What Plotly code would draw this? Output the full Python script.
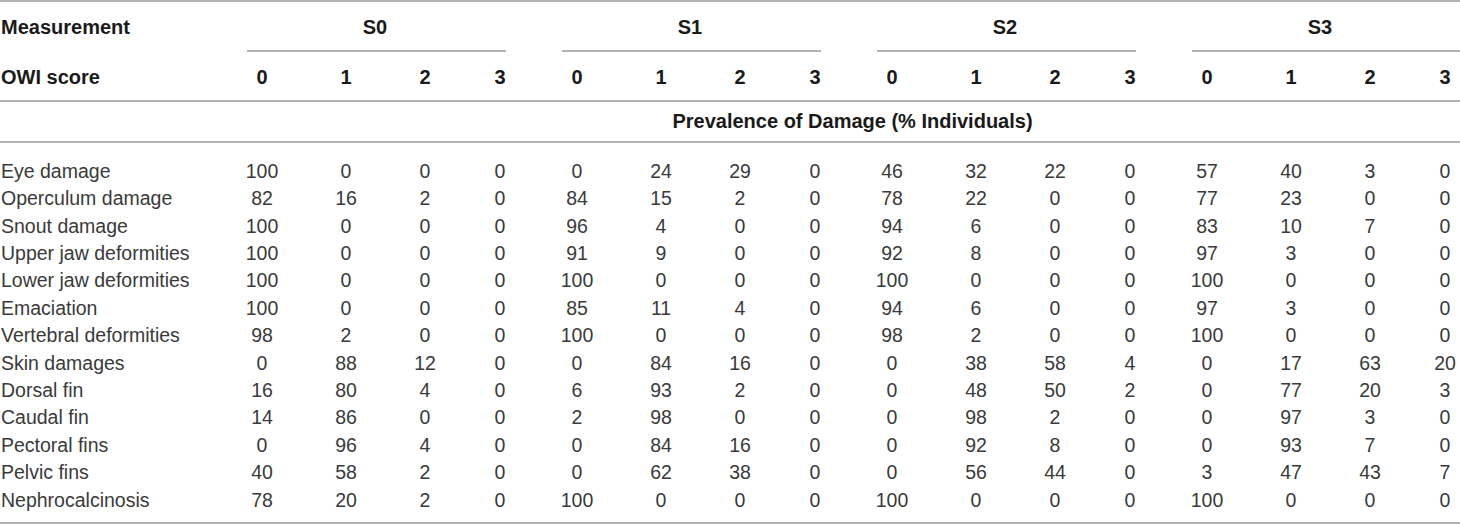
import plotly.graph_objects as go

groups = ["S0", "S1", "S2", "S3"]
scores = ["0", "1", "2", "3"]
measurements = ["Eye damage", "Operculum damage", "Snout damage", "Upper jaw deformities",
                "Lower jaw deformities", "Emaciation", "Vertebral deformities", "Skin damages",
                "Dorsal fin", "Caudal fin", "Pectoral fins", "Pelvic fins", "Nephrocalcinosis"]

s0 = [[100, 0, 0, 0], [82, 16, 2, 0], [100, 0, 0, 0], [100, 0, 0, 0], [100, 0, 0, 0],
      [100, 0, 0, 0], [98, 2, 0, 0], [0, 88, 12, 0], [16, 80, 4, 0], [14, 86, 0, 0],
      [0, 96, 4, 0], [40, 58, 2, 0], [78, 20, 2, 0]]
s1 = [[0, 24, 29, 0], [84, 15, 2, 0], [96, 4, 0, 0], [91, 9, 0, 0], [100, 0, 0, 0],
      [85, 11, 4, 0], [100, 0, 0, 0], [0, 84, 16, 0], [6, 93, 2, 0], [2, 98, 0, 0],
      [0, 84, 16, 0], [0, 62, 38, 0], [100, 0, 0, 0]]
s2 = [[46, 32, 22, 0], [78, 22, 0, 0], [94, 6, 0, 0], [92, 8, 0, 0], [100, 0, 0, 0],
      [94, 6, 0, 0], [98, 2, 0, 0], [0, 38, 58, 4], [0, 48, 50, 2], [0, 98, 2, 0],
      [0, 92, 8, 0], [0, 56, 44, 0], [100, 0, 0, 0]]
s3 = [[57, 40, 3, 0], [77, 23, 0, 0], [83, 10, 7, 0], [97, 3, 0, 0], [100, 0, 0, 0],
      [97, 3, 0, 0], [100, 0, 0, 0], [0, 17, 63, 20], [0, 77, 20, 3], [0, 97, 3, 0],
      [0, 93, 7, 0], [3, 47, 43, 7], [100, 0, 0, 0]]
values = [s0, s1, s2, s3]

subtitle = "Prevalence of Damage (% Individuals)"

# layout of the table (pixel-like axis units)
W, H = 1460, 525
group_start, group_step = 262, 315
col_offsets = [0, 84, 163, 238]
row0, row_step = 173, 27.4
y_head1, y_head2, y_sub = 29, 79, 123
line_col = "#b3b3b3"
txt_col = "#3a3a3a"
head_col = "#1a1a1a"
FONT = "Liberation Sans, Arial, sans-serif"


def col_x(g, j):
    return group_start + g * group_step + col_offsets[j]


fig = go.Figure()

# header texts
fig.add_trace(go.Scatter(x=[1, 1], y=[y_head1, y_head2], mode="text",
                         text=["<b>Measurement</b>", "<b>OWI score</b>"],
                         textposition="middle right",
                         textfont=dict(family=FONT, size=20, color=head_col)))
gx = [col_x(g, 0) + 113 for g in range(len(groups))]
fig.add_trace(go.Scatter(x=gx, y=[y_head1] * len(groups), mode="text",
                         text=["<b>%s</b>" % g for g in groups],
                         textfont=dict(family=FONT, size=20, color=head_col)))
sx, sy, st = [], [], []
for g in range(len(groups)):
    for j, s in enumerate(scores):
        sx.append(col_x(g, j))
        sy.append(y_head2)
        st.append("<b>%s</b>" % s)
fig.add_trace(go.Scatter(x=sx, y=sy, mode="text", text=st,
                         textfont=dict(family=FONT, size=20, color=head_col)))
fig.add_trace(go.Scatter(x=[(245 + W) / 2], y=[y_sub], mode="text",
                         text=["<b>%s</b>" % subtitle],
                         textfont=dict(family=FONT, size=20, color=head_col)))

# row labels
ry = [row0 + i * row_step for i in range(len(measurements))]
fig.add_trace(go.Scatter(x=[1] * len(measurements), y=ry, mode="text", text=measurements,
                         textposition="middle right",
                         textfont=dict(family=FONT, size=19.5, color=txt_col)))

# cells
cx, cy, ct = [], [], []
for g, grp in enumerate(values):
    for i, row in enumerate(grp):
        for j, v in enumerate(row):
            cx.append(col_x(g, j))
            cy.append(ry[i])
            ct.append(str(v))
fig.add_trace(go.Scatter(x=cx, y=cy, mode="text", text=ct,
                         textfont=dict(family=FONT, size=19.5, color=txt_col)))

# rules
shapes = []
for y in [1, 101, 142, H - 2]:
    shapes.append(dict(type="line", x0=0, x1=W, y0=y, y1=y,
                       line=dict(color=line_col, width=2)))
for g in range(len(groups)):
    x0 = col_x(g, 0) - 15
    x1 = col_x(g, 3) + 6 if g < 3 else W
    shapes.append(dict(type="line", x0=x0, x1=x1, y0=51, y1=51,
                       line=dict(color=line_col, width=2)))

fig.update_layout(
    width=W, height=H,
    margin=dict(l=0, r=0, t=0, b=0),
    paper_bgcolor="white", plot_bgcolor="white",
    showlegend=False,
    shapes=shapes,
    xaxis=dict(range=[0, W], visible=False, fixedrange=True),
    yaxis=dict(range=[H, 0], visible=False, fixedrange=True),
)

# page has a default 8px body margin, drop it so the table sits at the window edge
fig.write_html("out.html", config={"displayModeBar": False},
               post_script="document.body.style.margin='0';document.body.style.overflow='hidden';")
